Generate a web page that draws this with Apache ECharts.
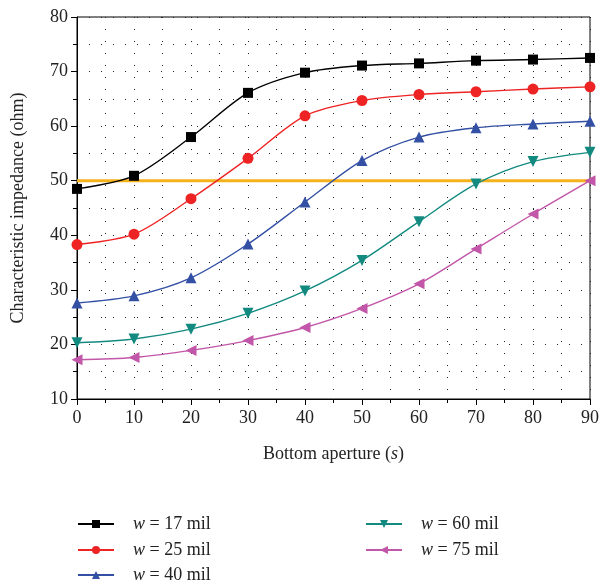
<!DOCTYPE html>
<html>
<head>
<meta charset="utf-8">
<script src="https://cdn.jsdelivr.net/npm/echarts@6/dist/echarts.min.js"></script>
<style>
  html, body { margin: 0; padding: 0; background: #fff; }
  #main { width: 602px; height: 584px; }
</style>
</head>
<body>
<div id="main"></div>
<script>
"use strict";

const apertures = [0, 10, 20, 30, 40, 50, 60, 70, 80, 90];
const w17 = [48.5, 50.9, 58.0, 66.1, 69.8, 71.1, 71.5, 72.0, 72.2, 72.5];
const w25 = [38.3, 40.2, 46.7, 54.1, 61.9, 64.7, 65.8, 66.3, 66.8, 67.2];
const w40 = [27.6, 28.9, 32.2, 38.4, 46.1, 53.7, 58.0, 59.7, 60.4, 60.9];
const w60 = [20.3, 21.0, 22.8, 25.7, 29.8, 35.4, 42.5, 49.4, 53.5, 55.2];
const w75 = [17.2, 17.6, 18.9, 20.7, 23.1, 26.6, 31.1, 37.5, 43.9, 50.0];
const targetLine = 50;

let chartDom = document.getElementById("main");
let myChart = echarts.init(chartDom);

const serif = "Liberation Serif";
const dotted = { color: "#222", width: 1, type: [1, 11] };

function makeSeries(name, values, color, symbol, rotate) {
  return {
    name: name,
    type: "line",
    smooth: 0.3,
    data: apertures.map((x, i) => [x, values[i]]),
    symbol: symbol,
    symbolSize: symbol === "rect" ? 10 : 11,
    symbolRotate: rotate,
    lineStyle: { color: color, width: 1.4 },
    itemStyle: { color: color },
    z: 3,
  };
}

// one legend per entry so each row sits where the reference puts it
function legendItem(name, left, top) {
  return {
    data: [name],
    left: left,
    top: top,
    itemWidth: 36,
    itemHeight: 10,
    formatter: (n) => "{i|w} = " + n + " mil",
    textStyle: {
      fontFamily: serif,
      fontSize: 18,
      color: "#222",
      padding: [0, 0, 0, 14],
      rich: {
        i: { fontFamily: serif, fontStyle: "italic", fontSize: 18, color: "#222" },
      },
    },
  };
}

let option = {
  animation: false,
  grid: {
    left: 77,
    right: 8,
    top: 17,
    bottom: 185,
    show: true,
    borderColor: "#000",
    borderWidth: 1,
  },
  legend: [
    legendItem("17", 72, 510),
    legendItem("25", 72, 536),
    legendItem("40", 72, 561),
    legendItem("60", 360, 510),
    legendItem("75", 360, 536),
  ],
  xAxis: {
    type: "value",
    min: 0,
    max: 90,
    interval: 10,
    name: "Bottom aperture ({i|s})",
    nameLocation: "middle",
    nameGap: 46,
    nameTextStyle: {
      fontFamily: serif,
      fontSize: 18,
      color: "#222",
      rich: { i: { fontFamily: serif, fontStyle: "italic", fontSize: 18, color: "#222" } },
    },
    axisLine: { lineStyle: { color: "#000", width: 1 } },
    axisTick: { inside: false, length: 6, lineStyle: { color: "#000" } },
    minorTick: { show: true, splitNumber: 2, length: 4, lineStyle: { color: "#000" } },
    axisLabel: { fontFamily: serif, fontSize: 18, color: "#222", margin: 10 },
    splitLine: { show: true, lineStyle: dotted },
    minorSplitLine: { show: true, lineStyle: dotted },
  },
  yAxis: {
    type: "value",
    min: 10,
    max: 80,
    interval: 10,
    name: "Characteristic impedance (ohm)",
    nameLocation: "middle",
    nameGap: 50,
    nameTextStyle: { fontFamily: serif, fontSize: 18, color: "#222" },
    axisLine: { show: true, lineStyle: { color: "#000", width: 1 } },
    axisTick: { show: true, inside: false, length: 6, lineStyle: { color: "#000" } },
    minorTick: { show: true, splitNumber: 2, length: 4, lineStyle: { color: "#000" } },
    axisLabel: { fontFamily: serif, fontSize: 18, color: "#222", margin: 9 },
    splitLine: { show: true, lineStyle: dotted },
    minorSplitLine: { show: true, lineStyle: dotted },
  },
  series: [
    makeSeries("17", w17, "#000000", "rect", 0),
    makeSeries("25", w25, "#ee2424", "circle", 0),
    makeSeries("40", w40, "#3450a4", "triangle", 0),
    makeSeries("60", w60, "#138a80", "triangle", 180),
    makeSeries("75", w75, "#c256a8", "triangle", 90),
    {
      name: "ref",
      type: "line",
      data: [[0, targetLine], [90, targetLine]],
      symbol: "none",
      lineStyle: { color: "#f6b21b", width: 3 },
      z: 2,
    },
  ],
};

option && myChart.setOption(option);
</script>
</body>
</html>
